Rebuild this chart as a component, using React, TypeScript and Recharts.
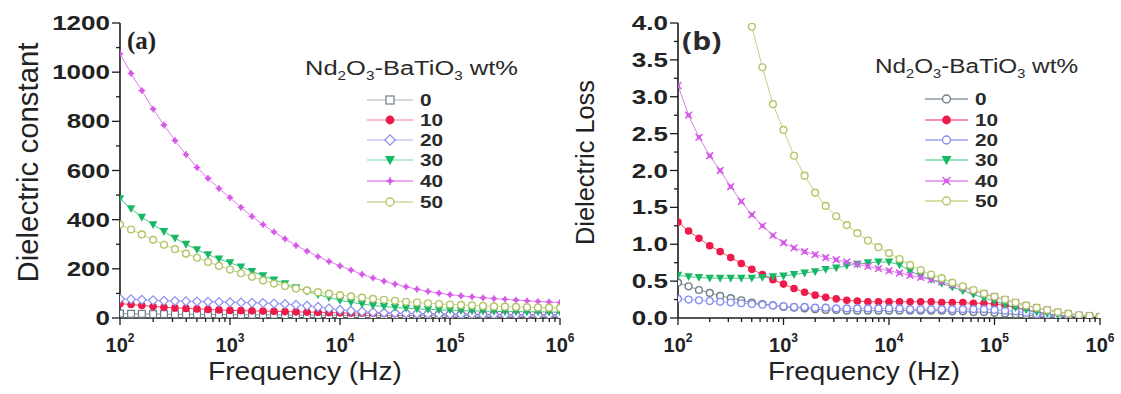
import { Label, Line, LineChart, XAxis, YAxis } from "recharts";

// frequency points, 10 per decade
const freqHz = [
  100, 126, 158, 200, 251, 316, 398, 501, 631, 794, 1000, 1259, 1585, 1995,
  2512, 3162, 3981, 5012, 6310, 7943, 10000, 12589, 15849, 19953, 25119,
  31623, 39811, 50119, 63096, 79433, 100000, 125893, 158489, 199526, 251189,
  316228, 398107, 501187, 630957, 794328, 1000000,
];

const freqTicks = [
  100, 200, 300, 400, 500, 600, 700, 800, 900, 1000, 2000, 3000, 4000, 5000,
  6000, 7000, 8000, 9000, 10000, 20000, 30000, 40000, 50000, 60000, 70000,
  80000, 90000, 100000, 200000, 300000, 400000, 500000, 600000, 700000,
  800000, 900000, 1000000,
];
const constantTicks = [0, 100, 200, 300, 400, 500, 600, 700, 800, 900, 1000, 1100, 1200];
const lossTicks = [
  0, 0.25, 0.5, 0.75, 1, 1.25, 1.5, 1.75, 2, 2.25, 2.5, 2.75, 3, 3.25, 3.5,
  3.75, 4,
];

const wtLabels = ["0", "10", "20", "30", "40", "50"];

// (a) dielectric constant
const constant0 = [18, 17, 17, 16, 16, 15, 15, 15, 14, 14, 14, 13, 13, 13, 13, 12, 12, 12, 12, 11, 11, 11, 11, 10, 10, 10, 10, 10, 9, 9, 9, 9, 9, 8, 8, 8, 8, 8, 8, 7, 7];
const constant10 = [58, 55, 51, 47, 44, 41, 39, 37, 35, 33, 31, 30, 29, 28, 27, 26, 25, 24, 23, 22, 21, 20, 20, 19, 19, 18, 18, 17, 17, 17, 16, 16, 16, 15, 15, 15, 14, 14, 14, 13, 13];
const constant20 = [78, 76, 74, 72, 70, 69, 68, 67, 66, 65, 64, 63, 62, 61, 59, 57, 54, 50, 45, 39, 33, 29, 26, 23, 21, 20, 19, 18, 17, 16, 16, 15, 15, 14, 14, 13, 13, 13, 12, 12, 12];
const constant30 = [485, 445, 410, 380, 352, 325, 300, 278, 258, 240, 225, 208, 190, 172, 155, 140, 123, 108, 95, 83, 72, 64, 57, 51, 47, 43, 40, 37, 35, 33, 32, 30, 29, 28, 27, 26, 26, 25, 25, 24, 24];
const constant40 = [1075, 995, 925, 850, 785, 722, 665, 612, 568, 527, 490, 450, 413, 380, 350, 322, 295, 272, 250, 230, 212, 195, 178, 163, 150, 138, 127, 117, 108, 101, 95, 90, 86, 82, 79, 76, 73, 70, 67, 65, 63];
const constant50 = [380, 360, 340, 318, 298, 280, 262, 245, 228, 212, 197, 182, 168, 153, 140, 130, 120, 112, 105, 99, 93, 88, 83, 78, 74, 70, 66, 63, 60, 57, 55, 53, 51, 49, 47, 46, 45, 44, 43, 42, 41];

// (b) dielectric loss
const loss0 = [0.48, 0.43, 0.38, 0.34, 0.3, 0.27, 0.24, 0.21, 0.19, 0.17, 0.15, 0.14, 0.13, 0.12, 0.11, 0.11, 0.1, 0.1, 0.1, 0.1, 0.1, 0.1, 0.1, 0.1, 0.1, 0.1, 0.09, 0.09, 0.08, 0.08, 0.07, 0.06, 0.05, 0.04, 0.03, 0.02, 0.01, 0.01, 0.01, 0, 0];
const loss10 = [1.3, 1.18, 1.08, 0.98, 0.9, 0.82, 0.74, 0.66, 0.59, 0.52, 0.46, 0.4, 0.35, 0.31, 0.28, 0.26, 0.24, 0.23, 0.22, 0.22, 0.22, 0.22, 0.22, 0.22, 0.22, 0.21, 0.21, 0.21, 0.2, 0.2, 0.19, 0.17, 0.14, 0.11, 0.08, 0.05, 0.03, 0.02, 0.01, 0.01, 0];
const loss20 = [0.26, 0.25, 0.24, 0.23, 0.22, 0.21, 0.2, 0.19, 0.18, 0.17, 0.16, 0.15, 0.15, 0.14, 0.14, 0.13, 0.13, 0.13, 0.13, 0.13, 0.13, 0.13, 0.12, 0.12, 0.12, 0.12, 0.12, 0.12, 0.12, 0.12, 0.11, 0.1, 0.09, 0.07, 0.05, 0.04, 0.02, 0.01, 0.01, 0, 0];
const loss30 = [0.58, 0.56, 0.55, 0.54, 0.54, 0.54, 0.54, 0.54, 0.55, 0.56, 0.57, 0.59, 0.61, 0.63, 0.66, 0.68, 0.71, 0.73, 0.75, 0.76, 0.76, 0.72, 0.64, 0.57, 0.52, 0.47, 0.42, 0.37, 0.32, 0.27, 0.23, 0.18, 0.14, 0.11, 0.08, 0.06, 0.04, 0.03, 0.02, 0.01, 0.01];
const loss40 = [3.15, 2.75, 2.45, 2.2, 2.0, 1.78, 1.58, 1.4, 1.25, 1.12, 1.02, 0.95, 0.9, 0.86, 0.82, 0.79, 0.76, 0.73, 0.7, 0.67, 0.64, 0.61, 0.58, 0.55, 0.52, 0.49, 0.45, 0.41, 0.37, 0.33, 0.29, 0.25, 0.21, 0.17, 0.14, 0.11, 0.08, 0.06, 0.04, 0.03, 0.02];
const loss50 = [null, null, null, null, null, null, null, 3.95, 3.4, 2.9, 2.55, 2.2, 1.93, 1.7, 1.52, 1.38, 1.26, 1.15, 1.05, 0.96, 0.88, 0.8, 0.72, 0.65, 0.59, 0.54, 0.48, 0.43, 0.38, 0.33, 0.29, 0.25, 0.21, 0.17, 0.14, 0.11, 0.08, 0.06, 0.04, 0.03, 0.02];

const COLORS = ["#6d7e88", "#ee1a4a", "#8a8ff0", "#17b865", "#d65ae8", "#b3c668"];
const LEGEND_LINE_A = ["#c3ced4", "#f5a8c4", "#c9c9f2", "#9fe6c6", "#ec8cf4", "#cdd89e"];
const LEGEND_LINE_B = ["#8b9aa2", "#f07090", "#a0a4f2", "#74e0aa", "#e286f2", "#c8d68e"];
const SHAPES_A = ["square", "dot", "diamond", "tri", "star", "ring"];
const SHAPES_B = ["ring", "dot", "ring", "tri", "cross", "ring"];

const SANS = "'Liberation Sans', Arial, sans-serif";
const INK = "#1c1c1c";

const constantRows = freqHz.map((f, i) => ({
  f,
  s0: constant0[i],
  s10: constant10[i],
  s20: constant20[i],
  s30: constant30[i],
  s40: constant40[i],
  s50: constant50[i],
}));
const lossRows = freqHz.map((f, i) => ({
  f,
  s0: loss0[i],
  s10: loss10[i],
  s20: loss20[i],
  s30: loss30[i],
  s40: loss40[i],
  s50: loss50[i],
}));
const seriesKeys = ["s0", "s10", "s20", "s30", "s40", "s50"];

function Marker({ cx, cy, shape, color, s = 3.4 }: { cx: number; cy: number; shape: string; color: string; s?: number }) {
  switch (shape) {
    case "square":
      return <rect x={cx - s} y={cy - s} width={s * 2} height={s * 2} fill="#fff" stroke={color} strokeWidth={1.2} />;
    case "dot":
      return <circle cx={cx} cy={cy} r={s + 0.4} fill={color} />;
    case "diamond":
      return (
        <path
          d={`M${cx} ${cy - s * 1.3}L${cx + s * 1.3} ${cy}L${cx} ${cy + s * 1.3}L${cx - s * 1.3} ${cy}Z`}
          fill="#fff"
          stroke={color}
          strokeWidth={1.2}
        />
      );
    case "ring":
      return <circle cx={cx} cy={cy} r={s} fill="#fff" stroke={color} strokeWidth={1.4} />;
    case "tri":
      return <path d={`M${cx - s * 1.25} ${cy - s}L${cx + s * 1.25} ${cy - s}L${cx} ${cy + s * 1.3}Z`} fill={color} />;
    case "star":
      return (
        <g stroke={color} strokeWidth={1.4}>
          <line x1={cx - s} y1={cy} x2={cx + s} y2={cy} />
          <line x1={cx} y1={cy - s} x2={cx} y2={cy + s} />
          <circle cx={cx} cy={cy} r={1.6} fill={color} />
        </g>
      );
    default:
      return (
        <g stroke={color} strokeWidth={1.5}>
          <line x1={cx - s} y1={cy - s} x2={cx + s} y2={cy + s} />
          <line x1={cx - s} y1={cy + s} x2={cx + s} y2={cy - s} />
          <circle cx={cx} cy={cy} r={1.5} fill={color} />
        </g>
      );
  }
}

const renderDot = (shape: string, color: string) => (p: any) => {
  if (p.cy == null || Number.isNaN(p.cy) || p.value == null) return <g key={p.index} />;
  return <g key={p.index}><Marker cx={p.cx} cy={p.cy} shape={shape} color={color} /></g>;
};

function FreqTick({ x, y, payload }: any) {
  const v = payload.value;
  const exp = Math.round(Math.log10(v));
  const major = Math.abs(Math.pow(10, exp) - v) < 1e-6;
  return (
    <g>
      <line x1={x} x2={x} y1={y} y2={y + (major ? 7 : 4)} stroke={INK} strokeWidth={1.3} />
      {major && (
        <text x={x} y={y + 34} textAnchor="middle" fontSize={20} fontWeight="bold" fill="#222" fontFamily={SANS}>
          10
          <tspan dy={-10} fontSize={12}>{exp}</tspan>
        </text>
      )}
    </g>
  );
}

const makeValueTick = (step: number, digits: number) => ({ x, y, payload }: any) => {
  const v = payload.value;
  const major = Math.abs(v / step - Math.round(v / step)) < 1e-6;
  return (
    <g>
      <line x1={x} x2={x - (major ? 8 : 4)} y1={y} y2={y} stroke={INK} strokeWidth={1.3} />
      {major && (
        <text
          transform={`translate(${x - 10},${y + 7}) scale(1.3,1)`}
          textAnchor="end"
          fontSize={20}
          fontWeight="bold"
          fill="#222"
          fontFamily={SANS}
        >
          {v.toFixed(digits)}
        </text>
      )}
    </g>
  );
};

const ConstantTick = makeValueTick(200, 0);
const LossTick = makeValueTick(0.5, 1);

function Panel({
  rows,
  width,
  rightMargin,
  yWidth,
  domain,
  ticks,
  tick,
  shapes,
  yTitle,
  yTitleX,
  yTitleLen,
  yTitleSize,
  xTitleDx,
  xTitleLen,
}: any) {
  return (
    <LineChart
      width={width}
      height={394}
      data={rows}
      margin={{ top: 23, right: rightMargin, left: 0, bottom: 0 }}
    >
      <XAxis
        dataKey="f"
        type="number"
        scale="log"
        domain={[100, 1000000]}
        ticks={freqTicks}
        interval={0}
        allowDataOverflow
        height={76}
        tickSize={0}
        tickMargin={0}
        tickLine={false}
        axisLine={{ stroke: INK, strokeWidth: 1.6 }}
        tick={<FreqTick />}
      >
        <Label
          content={({ viewBox }: any) => (
            <text
              x={viewBox.x + viewBox.width / 2 + xTitleDx}
              y={viewBox.y + 62}
              textAnchor="middle"
              fontSize={26}
              fill="#222"
              fontFamily={SANS}
              textLength={xTitleLen}
              lengthAdjust="spacingAndGlyphs"
            >
              Frequency (Hz)
            </text>
          )}
        />
      </XAxis>
      <YAxis
        type="number"
        domain={domain}
        ticks={ticks}
        interval={0}
        allowDataOverflow
        width={yWidth}
        tickSize={0}
        tickMargin={0}
        tickLine={false}
        axisLine={{ stroke: INK, strokeWidth: 1.6 }}
        tick={tick}
      >
        <Label
          content={({ viewBox }: any) => {
            const cx = yTitleX;
            const cy = viewBox.y + viewBox.height / 2 - 8;
            return (
              <text
                transform={`translate(${cx},${cy}) rotate(-90)`}
                textAnchor="middle"
                dominantBaseline="central"
                fontSize={yTitleSize}
                fill="#222"
                fontFamily={SANS}
                textLength={yTitleLen}
                lengthAdjust="spacingAndGlyphs"
              >
                {yTitle}
              </text>
            );
          }}
        />
      </YAxis>
      {seriesKeys.map((k, i) => (
        <Line
          key={k}
          dataKey={k}
          type="linear"
          stroke={COLORS[i]}
          strokeOpacity={0.8}
          strokeWidth={1}
          dot={renderDot(shapes[i], COLORS[i])}
          activeDot={false}
          connectNulls={false}
          isAnimationActive={false}
        />
      ))}
    </LineChart>
  );
}

function Title({ x, y, len }: { x: number; y: number; len: number }) {
  return (
    <text x={x} y={y} fontSize={20} fill="#2a2a2a" fontFamily={SANS} textLength={len} lengthAdjust="spacingAndGlyphs">
      Nd<tspan dy={5} fontSize={12}>2</tspan>
      <tspan dy={-5}>O</tspan>
      <tspan dy={5} fontSize={12}>3</tspan>
      <tspan dy={-5}>-BaTiO</tspan>
      <tspan dy={5} fontSize={12}>3</tspan>
      <tspan dy={-5}> wt%</tspan>
    </text>
  );
}

function LegendBlock({ titleX, titleY, titleLen, x1, x2, textX, rowsY, lines, shapes }: any) {
  return (
    <g>
      <Title x={titleX} y={titleY} len={titleLen} />
      {wtLabels.map((w, i) => (
        <g key={w}>
          <line x1={x1} x2={x2} y1={rowsY[i]} y2={rowsY[i]} stroke={lines[i]} strokeWidth={1.5} />
          <Marker cx={(x1 + x2) / 2} cy={rowsY[i]} shape={shapes[i]} color={COLORS[i]} s={4} />
          <text
            transform={`translate(${textX},${rowsY[i] + 6}) scale(1.3,1)`}
            fontSize={16}
            fontWeight="bold"
            fill="#2a2a2a"
            fontFamily={SANS}
          >
            {w}
          </text>
        </g>
      ))}
    </g>
  );
}

export default function App() {
  return (
    <div style={{ position: "absolute", left: 0, top: 0, width: 1121, height: 394, background: "#fff" }}>
      <div style={{ position: "absolute", left: 0, top: 0 }}>
        <Panel
          rows={constantRows}
          width={575}
          rightMargin={15}
          yWidth={120}
          domain={[0, 1200]}
          ticks={constantTicks}
          tick={<ConstantTick />}
          shapes={SHAPES_A}
          yTitle="Dielectric constant"
          yTitleX={28}
          yTitleLen={240}
          yTitleSize={29}
          xTitleDx={-35}
          xTitleLen={194}
        />
      </div>
      <div style={{ position: "absolute", left: 562, top: 0 }}>
        <Panel
          rows={lossRows}
          width={559}
          rightMargin={21}
          yWidth={116}
          domain={[0, 4]}
          ticks={lossTicks}
          tick={<LossTick />}
          shapes={SHAPES_B}
          yTitle="Dielectric Loss"
          yTitleX={23}
          yTitleLen={165}
          yTitleSize={26}
          xTitleDx={-25}
          xTitleLen={192}
        />
      </div>
      <svg width={1121} height={394} style={{ position: "absolute", left: 0, top: 0, pointerEvents: "none" }}>
        <text x={127} y={49} fontSize={25} fontWeight="bold" fill="#222" fontFamily="'Liberation Serif', 'Times New Roman', serif">
          (a)
        </text>
        <text
          transform="translate(682,50) scale(1.2,1)"
          fontSize={25}
          fontWeight="bold"
          fill="#2a2a2a"
          fontFamily="'Open Sans', sans-serif"
        >
          (b)
        </text>
        <LegendBlock
          titleX={305}
          titleY={75}
          titleLen={213}
          x1={367}
          x2={413}
          textX={420}
          rowsY={[100, 120, 140, 160, 181, 202]}
          lines={LEGEND_LINE_A}
          shapes={SHAPES_A}
        />
        <LegendBlock
          titleX={875}
          titleY={73}
          titleLen={203}
          x1={925}
          x2={968}
          textX={975}
          rowsY={[99, 120, 140, 160, 181, 201]}
          lines={LEGEND_LINE_B}
          shapes={SHAPES_B}
        />
      </svg>
    </div>
  );
}
